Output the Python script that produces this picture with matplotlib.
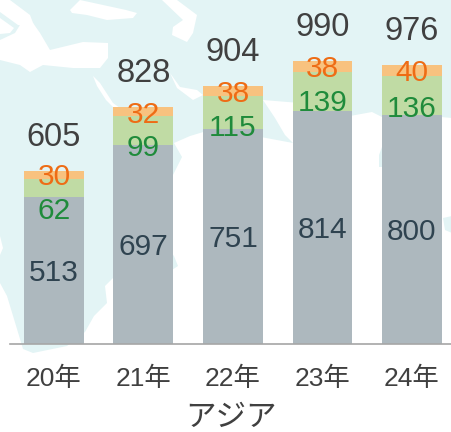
import matplotlib
matplotlib.use('Agg')
from matplotlib import pyplot as plt
from matplotlib.patches import Polygon
import numpy as np

plt.rcParams['font.family'] = ['Liberation Sans', 'Noto Sans CJK JP']

# chart data
years = ['20年', '21年', '22年', '23年', '24年']
grey_vals = [513, 697, 751, 814, 800]
green_vals = [62, 99, 115, 139, 136]
orange_vals = [30, 32, 38, 38, 40]
totals = [605, 828, 904, 990, 976]
region = 'アジア'

# label nudges, pixels downward from the middle of each segment
green_nudge = [23, 18, 15, 12, 13]
orange_nudge = [2, 3, 3, 3, 2]

MAP_BLUE = '#E3F4F5'

# background map in pixel coords: land first, then seas on top in white
land = [(0, 0), (452, 0), (452, 118), (430, 116), (382, 117), (372, 112), (350, 116), (326, 110), (300, 103),
        (263, 100), (275, 118), (285, 135), (293, 143), (250, 135), (210, 130), (190, 136), (174, 143), (182, 157),
        (174, 173), (160, 200), (160, 240), (174, 256), (178, 266), (172, 270), (150, 262), (113, 278), (105, 286),
        (107, 303), (94, 316), (85, 332), (67, 346), (33, 353), (23, 349), (17, 329), (7, 296), (0, 283)]
land2 = [(382, 147), (379, 155), (379, 167), (382, 167), (400, 150), (400, 120)]
land3 = [(443, 218), (452, 216), (452, 233), (445, 230)]
seas = [
    [(0, 0), (10, 0), (30, 15), (35, 28), (18, 25), (0, 12)],
    [(0, 18), (14, 28), (10, 33), (0, 34)],
    [(0, 60), (20, 65), (30, 72), (43, 65), (73, 68), (100, 68), (108, 58), (108, 43), (83, 42), (50, 50), (40, 33),
     (33, 23), (20, 25), (15, 33), (0, 40)],
    [(70, 10), (80, 0), (126, 10), (137, 13), (133, 18), (107, 20), (87, 15), (72, 13)],
    [(162, 0), (177, 0), (197, 15), (193, 33), (187, 42), (172, 35), (173, 27), (183, 20)],
    [(93, 76), (100, 83), (113, 103), (120, 108), (116, 110), (106, 100), (97, 86)],
    [(170, 73), (180, 87), (197, 90), (203, 95), (193, 100), (177, 88)],
    [(0, 236), (3, 248), (0, 255)],
    [(444, 122), (452, 118), (452, 138), (447, 130)],
]

fig = plt.figure(figsize=(4.52, 4.32), dpi=100)

bg = fig.add_axes([0, 0, 1, 1], zorder=0)
bg.set_xlim(0, 452)
bg.set_ylim(432, 0)
bg.axis('off')
for piece in [land, land2, land3]:
    bg.add_patch(Polygon(piece, closed=True, fc=MAP_BLUE, ec='none'))
for sea in seas:
    bg.add_patch(Polygon(sea, closed=True, fc='white', ec='none'))

ax = fig.add_axes([0, 0, 1, 1], zorder=1)
ax.patch.set_alpha(0)
ax.set_xlim(-0.603, 4.447)
ax.set_ylim(-310, 1203.6)

xx = np.arange(len(years))
grey = np.array(grey_vals)
green = np.array(green_vals)
orange = np.array(orange_vals)

ax.bar(xx, grey, 0.67, color='#ADB8BE')
ax.bar(xx, green, 0.67, bottom=grey, color='#C0DBA4')
ax.bar(xx, orange, 0.67, bottom=grey + green, color='#F8C27F')

for ii in xx:
    ax.annotate(str(grey[ii]), (ii, grey[ii] / 2), xytext=(0, -3), textcoords='offset pixels',
                ha='center', va='center', fontsize=21.5, color='#2F4350')
    ax.annotate(str(green[ii]), (ii, grey[ii] + green[ii] / 2), xytext=(0, -green_nudge[ii]),
                textcoords='offset pixels', ha='center', va='center', fontsize=21.5, color='#1F8B3B')
    ax.annotate(str(orange[ii]), (ii, grey[ii] + green[ii] + orange[ii] / 2), xytext=(0, -orange_nudge[ii]),
                textcoords='offset pixels', ha='center', va='center', fontsize=21.5, color='#EE6C15')
    ax.annotate(str(totals[ii]), (ii, grey[ii] + green[ii] + orange[ii]), xytext=(0, 33.5),
                textcoords='offset pixels', ha='center', va='center', fontsize=23.5, color='#404040')

for side in ['top', 'left', 'right']:
    ax.spines[side].set_visible(False)
ax.spines['bottom'].set_position(('data', 0))
ax.spines['bottom'].set_bounds(-0.49, 4.447)
ax.spines['bottom'].set_color('#A6A6A6')
ax.spines['bottom'].set_linewidth(1.2)
ax.set_yticks([])
ax.set_xticks(xx, years)
ax.tick_params(axis='x', length=0, pad=17, labelsize=19, labelcolor='#404040')
ax.set_xlabel(region, fontsize=22, color='#404040', va='center')
ax.xaxis.set_label_coords(231 / 452, 1 - 418 / 432, transform=ax.transAxes)

fig.savefig('out.png', dpi=100)
